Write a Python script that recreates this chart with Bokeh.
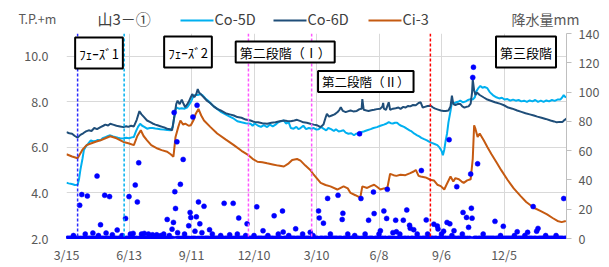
from bokeh.plotting import figure
from bokeh.layouts import column
from bokeh.models import (Range1d, LinearAxis, FixedTicker, Span, Label)
from bokeh.core.properties import value
from bokeh.embed import file_html
from bokeh.resources import INLINE

# ---------------- data ----------------
x_tick_days = [0, 90, 180, 270, 360, 450, 540, 630, 720]
x_tick_labels = ["3/15", "6/13", "9/11", "12/10", "3/10", "6/8", "9/6", "12/5", ""]
left_ticks = [2, 4, 6, 8, 10]
left_tick_labels = ["2.0", "4.0", "6.0", "8.0", "10.0"]
right_ticks = [0, 20, 40, 60, 80, 100, 120, 140]
right_tick_labels = ["0", "20", "40", "60", "80", "100", "120", "140"]

series_names = ["Co-5D", "Co-6D", "Ci-3"]
series_colors = ["#00B0F0", "#1F4E79", "#C55A11"]

co5d_days = [0, 3, 6, 9, 12, 16, 18, 20, 23, 25, 28, 31, 35, 38, 42, 45, 49, 52, 56, 60, 63, 67, 71, 74, 78, 82, 86, 90, 94, 97,
             100, 103, 106, 109, 112, 116, 120, 124, 128, 131, 135, 140, 145, 150, 153, 155, 158, 162, 166, 170, 174, 177, 180, 183, 186, 189, 193, 196,
             200, 204, 207, 212, 217, 223, 229, 235, 241, 246, 252, 258, 265, 268, 271, 276, 280, 284, 289, 293, 297,
             301, 305, 309, 313, 316, 320, 323, 327, 331, 334, 337, 341, 345, 349, 353, 356, 360, 363, 367, 370, 374, 377, 381, 385, 388, 392, 395, 399,
             402, 406, 410, 414, 417, 421, 425, 428, 433, 438, 442, 447, 452, 457, 461, 464, 467, 470, 473, 476, 479, 482, 486, 490, 494, 497,
             501, 505, 508, 511, 515, 519, 522, 526, 530, 534, 537, 540, 542, 544, 546, 548, 550, 553, 555, 558, 561, 564, 567, 571, 575, 578, 582, 585, 588, 590, 593, 596, 599,
             602, 606, 609, 612, 615, 619, 623, 627, 631, 635, 639, 643, 647, 651, 655, 659, 663, 667, 671, 675, 679, 683, 687, 691, 695, 699,
             703, 707, 711, 714, 716, 718, 720]
co5d_val = [4.45, 4.42, 4.40, 4.38, 4.35, 4.36, 4.60, 5.01, 5.50, 5.88, 6.05, 6.15, 6.31, 6.27, 6.28, 6.33, 6.31, 6.40, 6.45, 6.50, 6.53, 6.48, 6.45, 6.42, 6.39, 6.40, 6.42, 6.40, 6.44, 6.46,
            6.70, 6.90, 7.04, 6.95, 6.90, 6.82, 6.85, 6.85, 6.83, 6.82, 6.80, 6.78, 6.76, 6.75, 6.90, 7.30, 7.76, 7.70, 7.72, 7.70, 7.76, 7.90, 8.05, 8.27, 8.30, 8.30, 8.34, 8.28,
            8.15, 8.05, 7.95, 7.80, 7.69, 7.55, 7.45, 7.35, 7.26, 7.15, 7.10, 7.06, 7.04, 6.95, 7.05, 6.95, 6.90, 6.98, 6.89, 7.00, 6.92,
            7.00, 7.10, 7.15, 7.18, 7.05, 7.10, 6.85, 6.82, 6.90, 6.80, 6.85, 6.95, 6.80, 6.85, 6.82, 6.85, 6.78, 6.80, 6.90, 6.82, 6.75, 6.85, 6.80, 6.72, 6.80, 6.70, 6.72, 6.75,
            6.65, 6.60, 6.62, 6.53, 6.60, 6.62, 6.68, 6.70, 6.75, 6.80, 6.85, 6.89, 6.95, 7.00, 7.05, 7.11, 7.06, 7.05, 7.08, 7.08, 7.00, 6.95, 6.90, 6.82, 6.75, 6.70,
            6.60, 6.53, 6.48, 6.42, 6.36, 6.31, 6.25, 6.20, 6.15, 6.10, 6.00, 5.85, 5.66, 5.90, 6.30, 6.61, 7.10, 7.60, 7.98, 7.93, 7.98, 8.00, 8.05, 7.98, 8.02, 8.08, 8.12, 8.10, 8.20, 8.45, 8.60, 8.70, 8.62,
            8.65, 8.60, 8.45, 8.35, 8.27, 8.20, 8.15, 8.18, 8.10, 8.12, 8.05, 8.10, 8.05, 8.08, 8.02, 8.05, 8.00, 8.06, 8.02, 8.08, 8.00, 8.05, 8.00, 8.06, 8.02, 8.08,
            8.04, 8.10, 8.10, 8.20, 8.30, 8.22, 8.20]

co6d_days = [0, 4, 8, 12, 16, 20, 24, 28, 32, 36, 40, 44, 49, 53, 56, 60, 63, 67, 72, 77, 82, 86, 89, 93, 97,
             101, 105, 108, 111, 116, 120, 124, 128, 131, 135, 138, 142, 145, 149, 152, 155, 158, 160, 163, 166, 168, 171, 174, 176, 179, 181, 184, 187, 189, 191, 193, 196, 198,
             202, 207, 212, 217, 222, 229, 235, 241, 246, 252, 258, 265, 270, 276, 282, 289, 295,
             301, 307, 313, 318, 323, 328, 332, 337, 341, 346, 351, 356, 361, 366, 370, 373, 375, 378, 382, 386, 390, 393, 395, 398,
             402, 405, 409, 413, 418, 422, 425, 426, 428, 432, 435, 439, 443, 447, 452, 455, 456, 457, 460, 464, 466, 470, 474, 478, 481, 485, 488, 492, 495, 499,
             503, 507, 510, 513, 516, 520, 524, 528, 531, 535, 539, 543, 546, 550, 553, 555, 557, 560, 564, 567, 570, 573, 576, 579, 582, 584, 585, 587, 589, 591, 595,
             601, 606, 611, 617, 625, 630, 636, 642, 649, 655, 661, 667, 673, 678, 684, 690, 697, 702, 706, 710, 714, 717, 720]
co6d_val = [6.67, 6.62, 6.60, 6.50, 6.43, 6.55, 6.62, 6.70, 6.75, 6.72, 6.85, 6.80, 6.89, 6.95, 7.00, 6.96, 7.04, 7.00, 6.95, 6.92, 6.89, 6.93, 6.90, 6.95, 6.92,
            7.20, 7.59, 7.45, 7.35, 7.18, 7.12, 7.05, 7.00, 6.97, 6.93, 6.90, 6.86, 6.82, 6.80, 6.75, 7.30, 7.90, 8.05, 7.90, 8.10, 7.95, 7.76, 7.90, 8.00, 8.20, 8.34, 8.20, 8.35, 8.56, 8.40, 8.35, 8.25, 8.19,
            8.05, 7.95, 7.80, 7.69, 7.62, 7.50, 7.45, 7.40, 7.33, 7.30, 7.22, 7.18, 7.12, 7.10, 7.06, 7.04, 7.08,
            7.10, 7.15, 7.18, 7.16, 7.15, 7.18, 7.21, 7.15, 7.10, 7.08, 7.04, 7.00, 6.97, 6.89, 7.00, 7.30, 7.47, 7.35, 7.40, 7.45, 7.54, 7.65, 7.76, 7.60,
            7.55, 7.58, 7.62, 7.58, 7.60, 7.68, 7.70, 8.12, 7.65, 7.62, 7.60, 7.63, 7.65, 7.68, 7.70, 7.80, 7.95, 7.70, 7.65, 7.98, 7.65, 7.70, 7.72, 7.75, 7.69, 7.78, 7.75, 7.82, 7.80, 7.86,
            7.85, 7.95, 7.98, 7.75, 7.78, 7.82, 7.83, 7.75, 7.70, 7.66, 7.62, 7.60, 7.60, 7.62, 7.80, 8.27, 7.90, 7.86, 7.91, 7.91, 7.80, 7.75, 7.78, 7.80, 7.92, 8.40, 8.99, 8.50, 8.30, 8.41, 8.30,
            8.19, 8.10, 8.05, 7.98, 7.91, 7.85, 7.75, 7.70, 7.62, 7.56, 7.50, 7.45, 7.40, 7.35, 7.30, 7.25, 7.18, 7.14, 7.10, 7.12, 7.11, 7.20, 7.26]

ci3_days = [0, 8, 16, 23, 29, 35, 42, 49, 56, 63, 72, 82, 89, 97, 102, 107, 111, 116, 122, 131, 137, 145, 150, 154,
            157, 161, 164, 168, 171, 176, 179, 183, 186, 190, 194, 198, 207, 217, 229, 241, 252, 262, 268, 275, 282, 289, 297, 305,
            313, 320, 325, 332, 337, 344, 351, 356, 366, 373, 380, 390, 399, 405, 409, 416, 423, 426, 433, 438, 443, 448, 452, 457,
            462, 466, 471, 475, 481, 488, 495, 500, 503, 507, 510, 517, 524, 529, 534, 539, 544, 547, 553, 557, 560, 565, 569,
            572, 577, 582, 585, 587, 589, 592, 595, 601, 606, 612, 620, 626, 635, 644, 654, 662, 673, 683, 692, 700, 707, 713, 719]
ci3_val = [5.70, 5.60, 5.52, 5.90, 6.10, 6.17, 6.25, 6.31, 6.40, 6.49, 6.40, 6.24, 6.18, 6.10, 6.50, 6.75, 6.50, 6.31, 6.10, 5.95, 5.88, 5.81, 5.70, 5.59,
           6.46, 6.90, 7.18, 7.00, 7.04, 6.95, 6.97, 7.20, 7.47, 7.69, 7.40, 7.18, 6.90, 6.61, 6.35, 6.10, 5.85, 5.66, 5.50, 5.37, 5.35, 5.30, 5.25, 5.20,
           5.16, 5.30, 5.45, 5.49, 5.42, 5.20, 5.01, 4.80, 4.44, 4.35, 4.29, 4.15, 4.29, 4.20, 4.00, 3.90, 3.79, 4.29, 4.22, 4.30, 4.36, 4.25, 4.15, 4.20,
           4.22, 4.84, 4.78, 4.75, 4.80, 4.78, 4.87, 4.94, 5.01, 4.75, 4.72, 4.68, 4.58, 4.55, 4.36, 4.30, 4.15, 4.35, 4.72, 4.50, 4.65, 4.60, 4.50,
           4.44, 4.55, 4.60, 5.50, 6.97, 6.80, 6.46, 6.61, 6.30, 6.02, 5.70, 5.30, 5.00, 4.58, 4.20, 3.86, 3.60, 3.35, 3.20, 3.06, 2.90, 2.77, 2.72, 2.77]

# daily precipitation (mm); days not listed had 0 mm
rain_days = list(range(0, 721))
rain_events = [(10, 2), (19, 22.7), (22, 30), (27, 3), (30, 29), (38, 3.7), (44, 42.6), (46, 2), (49, 9.4), (55, 29.5),
               (57, 3.7), (62, 28.6), (66, 2.5), (73, 5.8), (80, 2), (85, 13.7), (90, 28.6), (92, 3), (96, 3.5), (99, 36.5),
               (102, 25), (104, 51.7), (108, 3), (112, 3.5), (118, 3), (124, 2.5), (130, 2.5), (136, 2), (140, 3), (145, 13),
               (148, 2), (152, 6.4), (154, 11), (155, 86), (156, 32), (157, 20.5), (159, 66), (160, 4), (164, 37), (168, 54),
               (170, 3), (176, 8.7), (178, 17.8), (179, 14.4), (182, 83), (185, 5), (187, 14.8), (188, 91), (190, 25), (192, 10),
               (195, 4), (198, 22), (206, 6), (210, 3), (222, 2), (227, 24), (235, 2.5), (240, 24), (246, 3), (248, 14),
               (258, 2), (260, 10), (270, 2), (274, 21.6), (283, 5.3), (290, 2), (299, 15.5), (305, 3), (311, 18.8), (312, 4.4),
               (320, 2), (330, 6.6), (340, 3), (351, 4.2), (355, 2), (363, 18.8), (364, 14), (370, 10.5), (376, 27.4), (380, 3),
               (391, 29.5), (397, 13), (398, 17.2), (405, 3), (415, 2), (422, 71.5), (424, 27.3), (430, 3), (435, 12.5), (442, 31.7),
               (443, 17), (450, 3), (452, 5.3), (457, 18.8), (461, 13.7), (462, 33.6), (470, 4), (474, 12.5), (475, 4.6), (480, 3),
               (485, 12.5), (490, 19.5), (494, 9), (495, 7), (500, 6), (505, 3), (511, 46.4), (518, 12.7), (520, 3), (529, 9.8),
               (534, 8.5), (535, 6.5), (540, 3), (543, 5), (548, 11), (551, 67.5), (552, 10), (555, 2), (558, 5.3), (562, 35.4),
               (570, 3), (571, 17.8), (576, 14.4), (579, 7.6), (582, 44), (583, 20.7), (584, 13.9), (585, 110), (586, 117), (592, 51),
               (600, 3), (617, 11.7), (625, 2), (629, 8.3), (645, 2), (649, 4.6), (660, 2), (664, 4.2), (672, 21.8), (677, 5),
               (679, 6.9), (690, 2), (705, 2), (716, 27.3)]
rain_mm = [0.0] * len(rain_days)
for d, mm in rain_events:
    rain_mm[d] = mm

phase_days = [16, 83, 262, 353, 524]
phase_colors = ["#2A2AFF", "#00B0F0", "#FF55FF", "#FF55FF", "#FF0000"]

# ---------------- styling / layout constants ----------------
FONT = "Noto Sans CJK JP"
GRID = "#D9D9D9"
TXT = "#595959"
W = 606
H_HEAD = 29
H_MAIN = 237
FL, FR = 66, 566          # frame left / right (page px)
FT_MAIN = 4               # gap between header and frame top
FB_MAIN = 26              # bottom border

# ---------------- header strip (titles + legend) ----------------
hdr = figure(width=W, height=H_HEAD, output_backend="svg", toolbar_location=None,
             x_range=Range1d(0, W), y_range=Range1d(H_HEAD, 0),
             x_axis_type=None, y_axis_type=None, min_border=0,
             min_border_left=0, min_border_right=0, min_border_top=0, min_border_bottom=0)
hdr.outline_line_color = None
hdr.background_fill_color = "white"
hdr.border_fill_color = "white"

def htext(x, y, txt, size, color, align="left"):
    hdr.text(x=[x], y=[y], text=[txt], text_font=value(FONT), text_font_size=size,
             text_color=color, text_align=align, text_baseline="middle")

htext(18, 17.5, "T.P.+m", "12.5px", TXT)
htext(97, 17.8, "山3－①", "15px", "#404040")
htext(511, 18.2, "降水量mm", "14px", TXT)
key_x0 = [180, 273, 368]
key_len = 33
hdr.segment(x0=key_x0, y0=[20] * 3, x1=[k + key_len for k in key_x0], y1=[20] * 3,
            line_color=series_colors, line_width=2)
for k, name in zip(key_x0, series_names):
    htext(k + key_len + 1, 18.2, name, "14.5px", "#404040")

# ---------------- main chart ----------------
p = figure(width=W, height=H_MAIN, output_backend="svg", toolbar_location=None,
           x_range=Range1d(0, 720), y_range=Range1d(2, 11),
           min_border_left=FL, min_border_right=W - FR, min_border_top=FT_MAIN, min_border_bottom=FB_MAIN)
p.outline_line_color = None
p.background_fill_color = "white"
p.border_fill_color = "white"

# let the chart slide a little under the (transparent-bordered) header so the
# top right-axis label has room
overlap = 0
try:
    p.margin = (-9, 0, 0, 0)
    overlap = 9
except Exception:
    overlap = 0
if overlap:
    p.height = H_MAIN + overlap
    p.min_border_top = FT_MAIN + overlap
    p.border_fill_color = None

# keep the header's frame independent from the chart's frame in the column
for fig in (hdr, p):
    try:
        fig.frame_align = False
    except Exception:
        pass

# left axis
p.yaxis.ticker = FixedTicker(ticks=left_ticks)
p.yaxis.major_label_overrides = dict(zip(left_ticks, left_tick_labels))
p.yaxis.axis_line_color = None
p.yaxis.major_tick_line_color = None
p.yaxis.major_tick_out = 0
p.yaxis.major_tick_in = 0
p.yaxis.minor_tick_line_color = None
p.yaxis.major_label_standoff = 18
p.yaxis.major_label_text_font = FONT
p.yaxis.major_label_text_font_size = "12.5px"
p.yaxis.major_label_text_color = TXT

# bottom axis
p.xaxis.ticker = FixedTicker(ticks=x_tick_days)
p.xaxis.major_label_overrides = dict(zip(x_tick_days, x_tick_labels))
p.xaxis.axis_line_color = None
p.xaxis.major_tick_line_color = None
p.xaxis.major_tick_out = 0
p.xaxis.major_tick_in = 0
p.xaxis.minor_tick_line_color = None
p.xaxis.major_label_standoff = 6
p.xaxis.major_label_text_font = FONT
p.xaxis.major_label_text_font_size = "12.5px"
p.xaxis.major_label_text_color = TXT

p.xgrid.grid_line_color = GRID
p.ygrid.grid_line_color = GRID

# right axis (rain)
p.extra_y_ranges = {"rain": Range1d(0, 140)}
ra = LinearAxis(y_range_name="rain", ticker=FixedTicker(ticks=right_ticks))
ra.major_label_overrides = dict(zip(right_ticks, right_tick_labels))
ra.axis_line_color = "#BFBFBF"
ra.major_tick_line_color = "#BFBFBF"
ra.major_tick_in = 0
ra.major_tick_out = 5
ra.minor_tick_line_color = None
ra.major_label_standoff = 7
ra.major_label_text_font = FONT
ra.major_label_text_font_size = "12.5px"
ra.major_label_text_color = TXT
p.add_layout(ra, "right")

# phase lines
for d, c in zip(phase_days, phase_colors):
    p.add_layout(Span(location=d, dimension="height", line_color=c, line_width=1.5, line_dash="3 2"))

# series
for xs, ys, c in zip([co5d_days, co6d_days, ci3_days], [co5d_val, co6d_val, ci3_val], series_colors):
    p.line(xs, ys, line_color=c, line_width=2)
p.scatter(rain_days, rain_mm, y_range_name="rain", size=5, fill_color="#0000FF", line_color="#0000FF", line_width=0.5)

# phase boxes (frame screen coords: from frame bottom-left)
def lab(x, y, text, size, **kw):
    p.add_layout(Label(x=x, y=y, x_units="screen", y_units="screen", text=text,
                       text_font=FONT, text_font_size=size, text_color="black",
                       text_align="center", text_baseline="middle",
                       background_fill_color="white", border_line_color="black", border_line_width=2, **kw))

lab(32.5, 185.5, "ﾌｪｰｽﾞ1", "13px", padding=(4, 6))
lab(121.5, 186.5, "ﾌｪｰｽﾞ2", "13px", padding=(4, 6))
lab(218.7, 186.5, "第二段階（Ⅰ）", "13px", padding=(4, 1))
lab(299.3, 157, "第二段階（Ⅱ）", "12.5px", padding=(4, 1))
lab(459.5, 186.5, "第三段階", "13px", padding=(4, 6))

layout = column(hdr, p, spacing=0)
open("out.html", "w").write(file_html(layout, INLINE))
